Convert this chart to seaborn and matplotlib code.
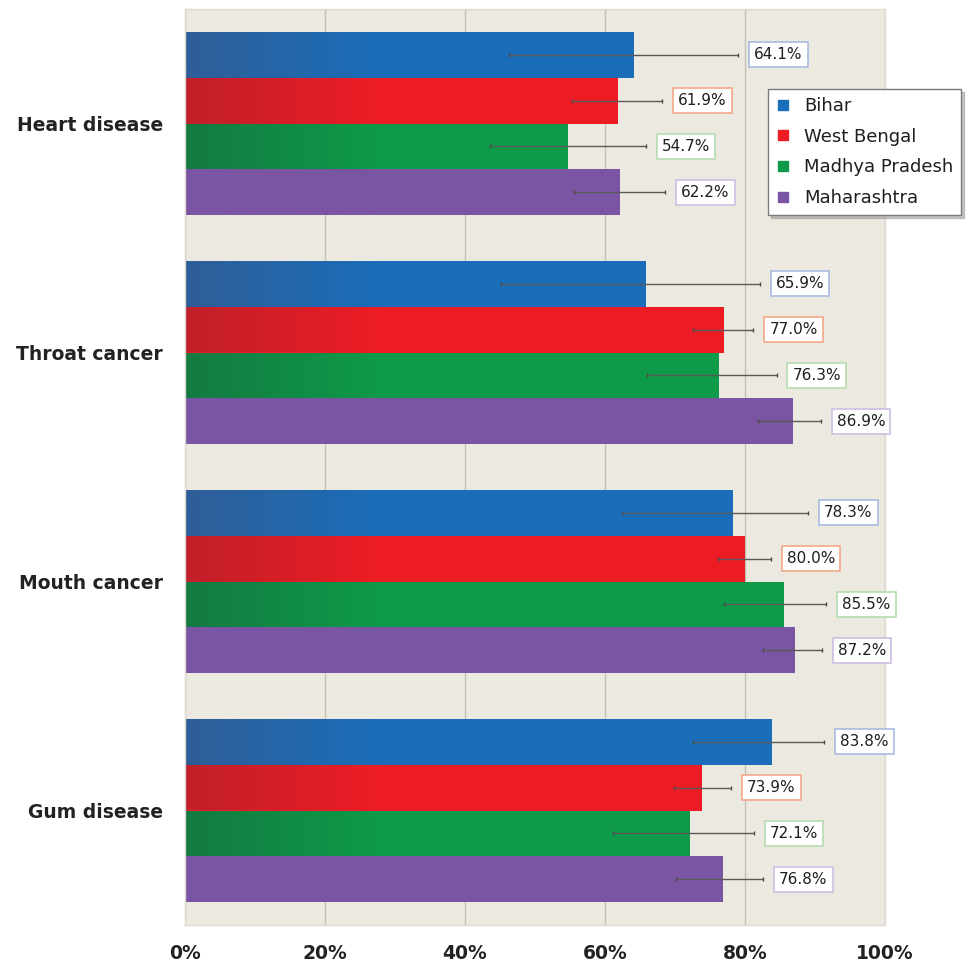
import numpy as np
import pandas as pd
import matplotlib
matplotlib.use("Agg")
import matplotlib.pyplot as plt
import seaborn as sns
from matplotlib.lines import Line2D
from matplotlib.colors import to_rgb

# ---------------- data ----------------
diseases = ["Heart disease", "Throat cancer", "Mouth cancer", "Gum disease"]
states = ["Bihar", "West Bengal", "Madhya Pradesh", "Maharashtra"]

bihar = [64.1, 65.9, 78.3, 83.8]
west_bengal = [61.9, 77.0, 80.0, 73.9]
madhya_pradesh = [54.7, 76.3, 85.5, 72.1]
maharashtra = [62.2, 86.9, 87.2, 76.8]

# confidence interval bounds
bihar_lo = [46.3, 45.1, 62.4, 72.6]
bihar_hi = [79.0, 82.1, 89.0, 91.3]
west_bengal_lo = [55.3, 72.5, 76.2, 69.9]
west_bengal_hi = [68.2, 81.2, 83.7, 78.0]
madhya_pradesh_lo = [43.6, 66.0, 77.0, 61.1]
madhya_pradesh_hi = [65.8, 84.5, 91.6, 81.3]
maharashtra_lo = [55.6, 81.9, 82.6, 70.2]
maharashtra_hi = [68.6, 90.8, 91.0, 82.6]

x_ticks = [0, 20, 40, 60, 80, 100]
x_tick_labels = ["0%", "20%", "40%", "60%", "80%", "100%"]

# ---------------- styling ----------------
colors = ["#1A6DB8", "#ED1C24", "#0E9A48", "#7A55A3"]
dark_left = ["#2F5E98", "#C1202A", "#147A42", "#7A55A3"]
label_edges = ["#A9BBE3", "#F4A889", "#B6DBB0", "#CDBFE3"]
bg = "#ECE9E0"
grid_c = "#C4C1B4"

values = [bihar, west_bengal, madhya_pradesh, maharashtra]
lows = [bihar_lo, west_bengal_lo, madhya_pradesh_lo, maharashtra_lo]
highs = [bihar_hi, west_bengal_hi, madhya_pradesh_hi, maharashtra_hi]

rows = []
for s, vals, lo, hi in zip(states, values, lows, highs):
    for d, v, l, h in zip(diseases, vals, lo, hi):
        rows.append({"disease": d, "state": s, "value": v, "lo": l, "hi": h})
df = pd.DataFrame(rows)

sns.set_style("white")
plt.rcParams["font.family"] = ["DejaVu Sans"]

fig = plt.figure(figsize=(9.73, 9.66), dpi=100)
ax = fig.add_axes([185 / 973, 1 - 925 / 966, 700 / 973, 916 / 966])
ax.set_facecolor(bg)

sns.barplot(data=df, y="disease", x="value", hue="state", order=diseases,
            hue_order=states, palette=colors, orient="h", errorbar=None,
            width=0.8, saturation=1, edgecolor="none", linewidth=0,
            legend=False, ax=ax, zorder=2)

ax.set_xlim(0, 100)
ax.set_ylim(3.5, -0.5)

# gradient on left portion of bars + error bars + labels
grad_w = 28.0
for j, cont in enumerate(ax.containers):
    c0 = np.array(to_rgb(dark_left[j]))
    c1 = np.array(to_rgb(colors[j]))
    t = np.linspace(0, 1, 64)[None, :, None]
    img = c0[None, None, :] * (1 - t) + c1[None, None, :] * t
    for patch in cont:
        yc = patch.get_y() + patch.get_height() / 2
        i = int(round(yc))
        row = df[(df.state == states[j]) & (df.disease == diseases[i])].iloc[0]
        y0, y1 = patch.get_y(), patch.get_y() + patch.get_height()
        im = ax.imshow(img, extent=[0, grad_w, y1, y0], aspect="auto",
                       zorder=2.5, interpolation="bilinear")
        im.set_clip_path(patch)
        ax.plot([row.lo, row.hi], [yc, yc], color="#5A5A5A", lw=1.0,
                zorder=4, solid_capstyle="butt")
        ax.plot([row.lo, row.hi], [yc, yc], ls="none", marker="|",
                ms=3, mew=1.0, color="#4A4A4A", zorder=4)
        ax.annotate(f"{row.value:.1f}%", xy=(row.hi, yc), xytext=(11.5, 0),
                    textcoords="offset points", ha="left", va="center",
                    fontsize=11, color="#1E1E1E", zorder=5,
                    bbox=dict(boxstyle="square,pad=0.33", fc="white",
                              ec=label_edges[j], lw=1.2))

ax.set_xlim(0, 100)
ax.set_ylim(3.5, -0.5)

ax.set_xticks(x_ticks)
ax.set_xticklabels(x_tick_labels, fontsize=13.5, fontweight="bold", color="#222222")
ax.set_yticks(range(len(diseases)))
ax.set_yticklabels(diseases, fontsize=13.5, fontweight="bold", color="#222222")
ax.tick_params(axis="x", length=0, pad=14)
ax.tick_params(axis="y", length=0, pad=16)
ax.set_xlabel("")
ax.set_ylabel("")

ax.grid(axis="x", color=grid_c, lw=1.0, zorder=0)
ax.grid(axis="y", visible=False)
ax.set_axisbelow(True)
for sp in ax.spines.values():
    sp.set_visible(True)
    sp.set_color("#DDDAD0")
    sp.set_linewidth(1.0)

handles = [Line2D([0], [0], marker="s", ls="none", markersize=7.5,
                  markerfacecolor=c, markeredgecolor=c) for c in colors]
leg = fig.legend(handles, states, loc="upper left",
                 bbox_to_anchor=(768 / 973, 1 - 89 / 966),
                 bbox_transform=fig.transFigure, fontsize=13,
                 frameon=True, fancybox=False,
                 shadow={"color": "#9A9A9A", "alpha": 0.55},
                 handlelength=0.8, handletextpad=0.75, labelspacing=0.7,
                 borderpad=0.45, borderaxespad=0)
leg.get_frame().set_edgecolor("#7A7A7A")
leg.get_frame().set_linewidth(1.0)
for txt in leg.get_texts():
    txt.set_color("#1E1E1E")

fig.savefig("out.png", dpi=100, facecolor="white")
